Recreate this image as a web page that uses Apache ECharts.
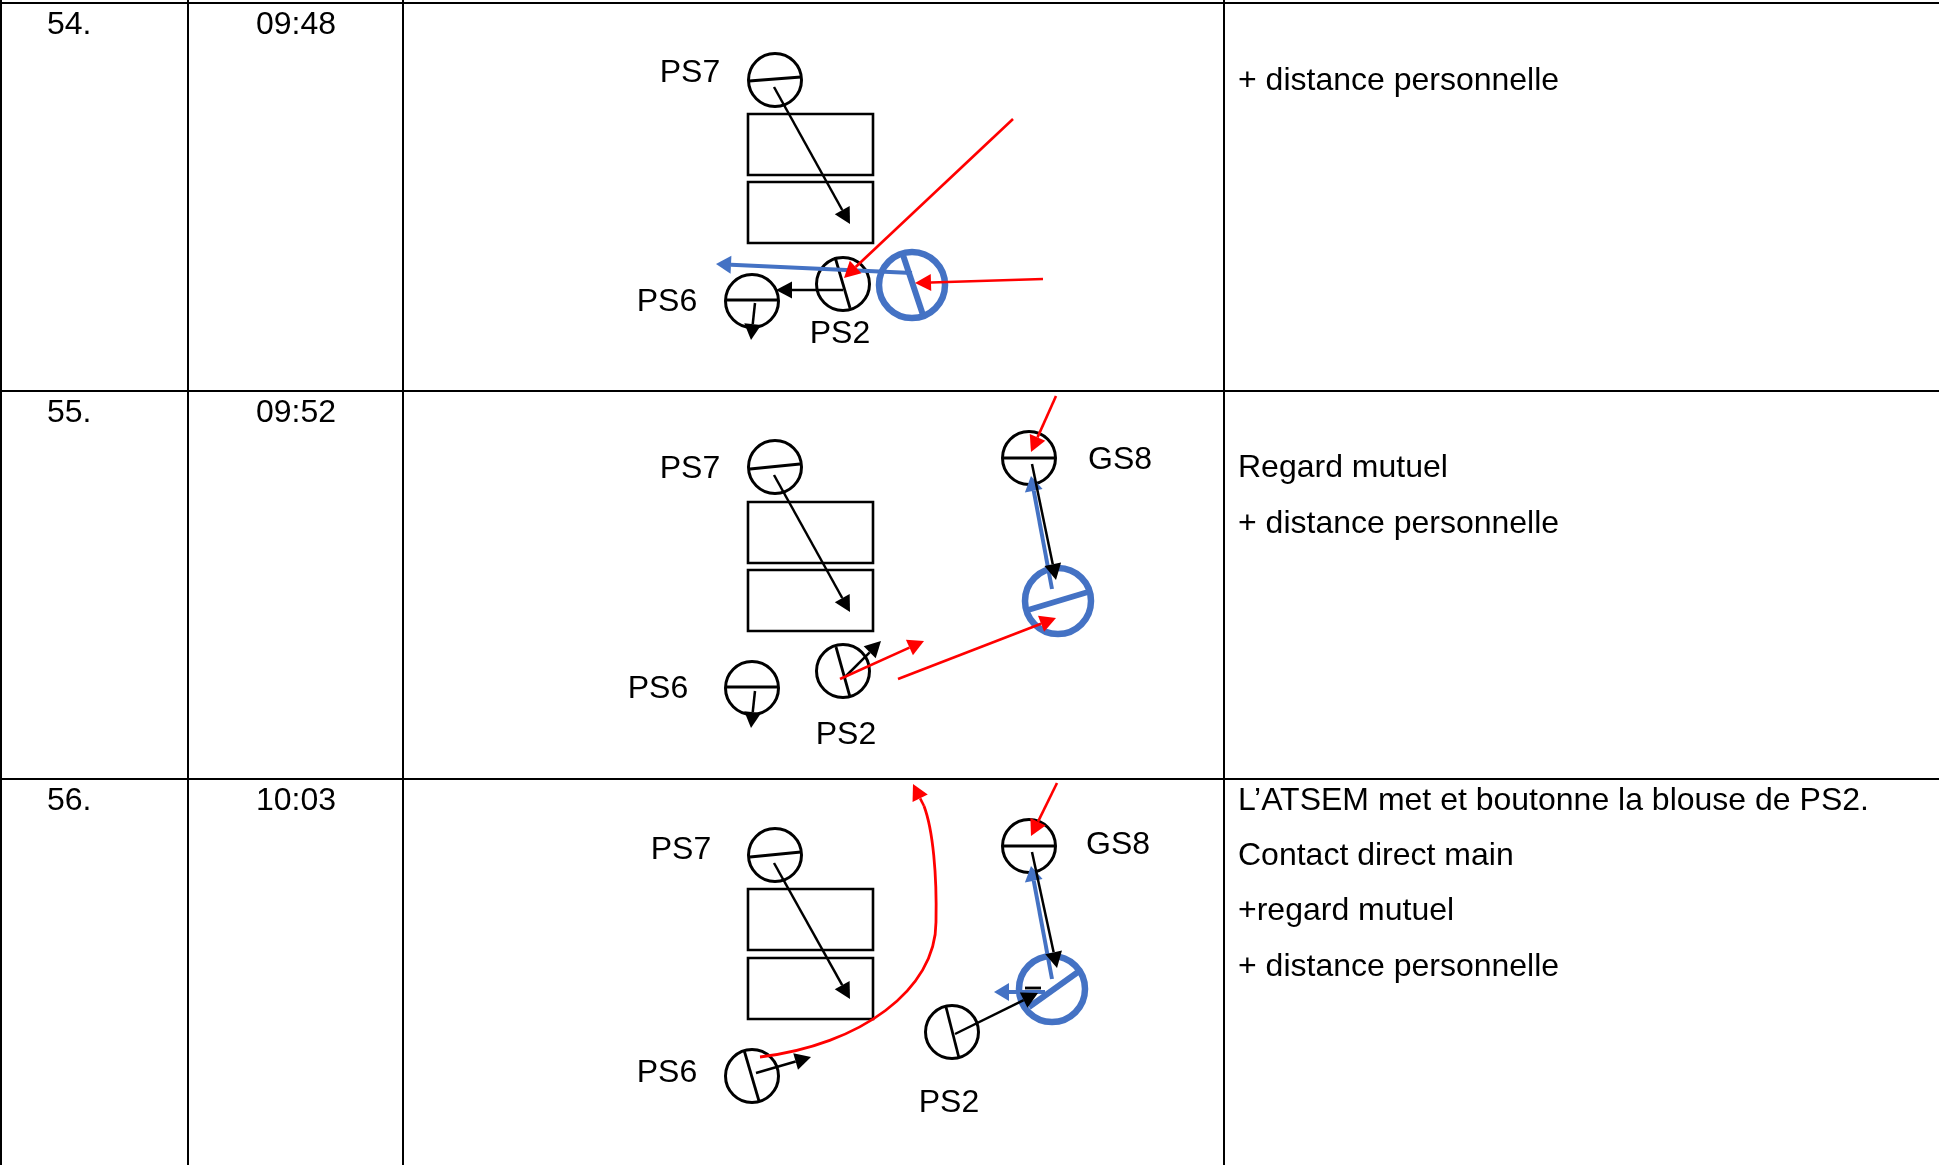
<!DOCTYPE html>
<html>
<head>
<meta charset="utf-8">
<style>html,body{margin:0;padding:0;background:#fff}#c{width:1939px;height:1165px}</style>
<script src="https://cdn.jsdelivr.net/npm/echarts@6/dist/echarts.min.js"></script>
</head>
<body>
<div id="c"></div>
<script>
// Table rules, in picture units
var tableRowRules = [3, 391, 779];
var tableColRules = [1, 188, 403, 1224];

// Table text
var tableTexts = ['54.', '09:48', '+ distance personnelle',
  '55.', '09:52', 'Regard mutuel', '+ distance personnelle',
  '56.', '10:03', 'L’ATSEM met et boutonne la blouse de PS2.', 'Contact direct main', '+regard mutuel', '+ distance personnelle'];
var tableTextPoints = [[47,25],[256,25],[1238,81],
  [47,413],[256,413],[1238,468],[1238,524],
  [47,801],[256,801],[1238,801],[1238,856],[1238,911],[1238,967]];

// Diagram labels
var personLabels = ['PS7','PS6','PS2','PS7','PS6','PS2','GS8','PS7','PS6','PS2','GS8'];
var personLabelPoints = [[690,73],[667,302],[840,334],[690,469],[658,689],[846,735],[1120,460],[681,850],[667,1073],[949,1103],[1118,845]];

// Desks
var desks = [[748,114,873,175],[748,182,873,243],[748,502,873,563],[748,570,873,631],[748,889,873,950],[748,958,873,1019]];

// People
var people = [[775,80],[843,284],[752,301],[775,467],[752,688],[843,671],[1029,458],[775,855],[752,1076],[952,1032],[1029,846]];
var adults = [[912,285],[1058,601],[1052,989]];

// Orientation strokes
var peopleBars = [[749,81,801,77],[835,257,850,308],[725,300,778,300],
  [750,469,800,464],[726,687,778,687],[836,647,850,697],[1003,458,1056,458],
  [750,857,801,852],[744,1050,759,1101],[946,1007,959,1058],[1003,846,1056,846],[1025,988,1041,988]];
var adultBars = [[902,252,923,315],[1028,610,1088,592],[1029,1007,1078,972]];

// Arrows
var blackArrows = [[774,87,850,224],[843,290,776,290],[755,303,751,340],
  [774,475,850,612],[755,691,751,728],[845,677,881,641],[1032,464,1056,580],
  [774,863,850,999],[756,1073,811,1057],[955,1034,1038,993],[1032,852,1057,968]];
var blueArrows = [[912,273,716,264],[1052,589,1031,476],[1052,979,1031,866],[1045,992,994,992]];
var redArrows = [[1013,119,844,278],[1043,279,915,283],
  [1056,396,1031,452],[840,679,924,641],[898,679,1056,618],
  [1057,783,1031,836],[924,806,913,784]];

// Red curved path of the third row: start, two handles, end
var redCurve = [[760,1057,860,1045,936,990,936,922],[936,922,937,875,933,830,924,806]];

function segment(api){
  var a = api.coord([api.value(0), api.value(1)]);
  var b = api.coord([api.value(2), api.value(3)]);
  return [a, b];
}
function barSeries(data, color, width, z){
  return {type:'custom', coordinateSystem:'cartesian2d', z:z, silent:true, clip:false, data:data,
    renderItem:function(p, api){
      var s = segment(api);
      return {type:'line', shape:{x1:s[0][0],y1:s[0][1],x2:s[1][0],y2:s[1][1]},
        style:{stroke:color, lineWidth:width, fill:null}};
    }};
}
function arrowSeries(data, color, width, len, half, z){
  return {type:'custom', coordinateSystem:'cartesian2d', z:z, silent:true, clip:false, data:data,
    renderItem:function(p, api){
      var s = segment(api), a = s[0], b = s[1];
      var dx = b[0]-a[0], dy = b[1]-a[1], d = Math.sqrt(dx*dx+dy*dy);
      var ux = dx/d, uy = dy/d;
      var l = Math.min(len, d);
      var bx = b[0]-ux*l, by = b[1]-uy*l;
      return {type:'group', children:[
        {type:'line', shape:{x1:a[0],y1:a[1],x2:bx,y2:by}, style:{stroke:color, lineWidth:width, fill:null}},
        {type:'polygon', shape:{points:[[b[0],b[1]],[bx-uy*half,by+ux*half],[bx+uy*half,by-ux*half]]}, style:{fill:color, stroke:null}}
      ]};
    }};
}
function circleSeries(data, r, color, width, z){
  return {type:'custom', coordinateSystem:'cartesian2d', z:z, silent:true, clip:false, data:data,
    renderItem:function(p, api){
      var c = api.coord([api.value(0), api.value(1)]);
      return {type:'circle', shape:{cx:c[0],cy:c[1],r:r}, style:{stroke:color, lineWidth:width, fill:null}};
    }};
}
function textSeries(points, texts, align, z){
  return {type:'custom', coordinateSystem:'cartesian2d', z:z, silent:true, clip:false, data:points,
    renderItem:function(p, api){
      var c = api.coord([api.value(0), api.value(1)]);
      return {type:'text', x:c[0], y:c[1], style:{text:texts[p.dataIndex], fill:'#000',
        font:'32px "Liberation Sans", Arial, sans-serif', align:align, verticalAlign:'middle'}};
    }};
}
var ruleSegments = [];
tableRowRules.forEach(function(y){ ruleSegments.push([0,y,1939,y]); });
tableColRules.forEach(function(x){ ruleSegments.push([x,0,x,1165]); });

var deskSeries = {type:'custom', coordinateSystem:'cartesian2d', z:2, silent:true, clip:false, data:desks,
  renderItem:function(p, api){
    var a = api.coord([api.value(0), api.value(1)]), b = api.coord([api.value(2), api.value(3)]);
    return {type:'rect', shape:{x:a[0],y:a[1],width:b[0]-a[0],height:b[1]-a[1]}, style:{stroke:'#000', lineWidth:2.6, fill:null}};
  }};
var curveSeries = {type:'custom', coordinateSystem:'cartesian2d', z:7, silent:true, clip:false, data:redCurve,
  renderItem:function(p, api){
    var a = api.coord([api.value(0), api.value(1)]), c1 = api.coord([api.value(2), api.value(3)]),
        c2 = api.coord([api.value(4), api.value(5)]), b = api.coord([api.value(6), api.value(7)]);
    return {type:'bezierCurve', shape:{x1:a[0],y1:a[1],cpx1:c1[0],cpy1:c1[1],cpx2:c2[0],cpy2:c2[1],x2:b[0],y2:b[1]},
      style:{stroke:'#FF0000', lineWidth:2.8, fill:null}};
  }};

var chart = echarts.init(document.getElementById('c'), null, {renderer:'canvas'});
chart.setOption({
  animation:false,
  backgroundColor:'#fff',
  grid:{left:0, right:0, top:0, bottom:0},
  xAxis:{type:'value', min:0, max:1939, show:false},
  yAxis:{type:'value', min:0, max:1165, inverse:true, show:false},
  series:[
    barSeries(ruleSegments, '#000', 2, 1),
    deskSeries,
    circleSeries(people, 26.5, '#000', 3, 3),
    barSeries(peopleBars, '#000', 2.8, 3),
    arrowSeries(blueArrows, '#4472C4', 4, 15, 9, 4),
    circleSeries(adults, 33, '#4472C4', 6.5, 4),
    barSeries(adultBars, '#4472C4', 6, 4),
    arrowSeries(blackArrows, '#000', 2.5, 16, 8.5, 5),
    curveSeries,
    arrowSeries(redArrows, '#FF0000', 2.6, 16, 8.5, 7),
    textSeries(tableTextPoints, tableTexts, 'left', 8),
    textSeries(personLabelPoints, personLabels, 'center', 8)
  ]
});
</script>
</body>
</html>
